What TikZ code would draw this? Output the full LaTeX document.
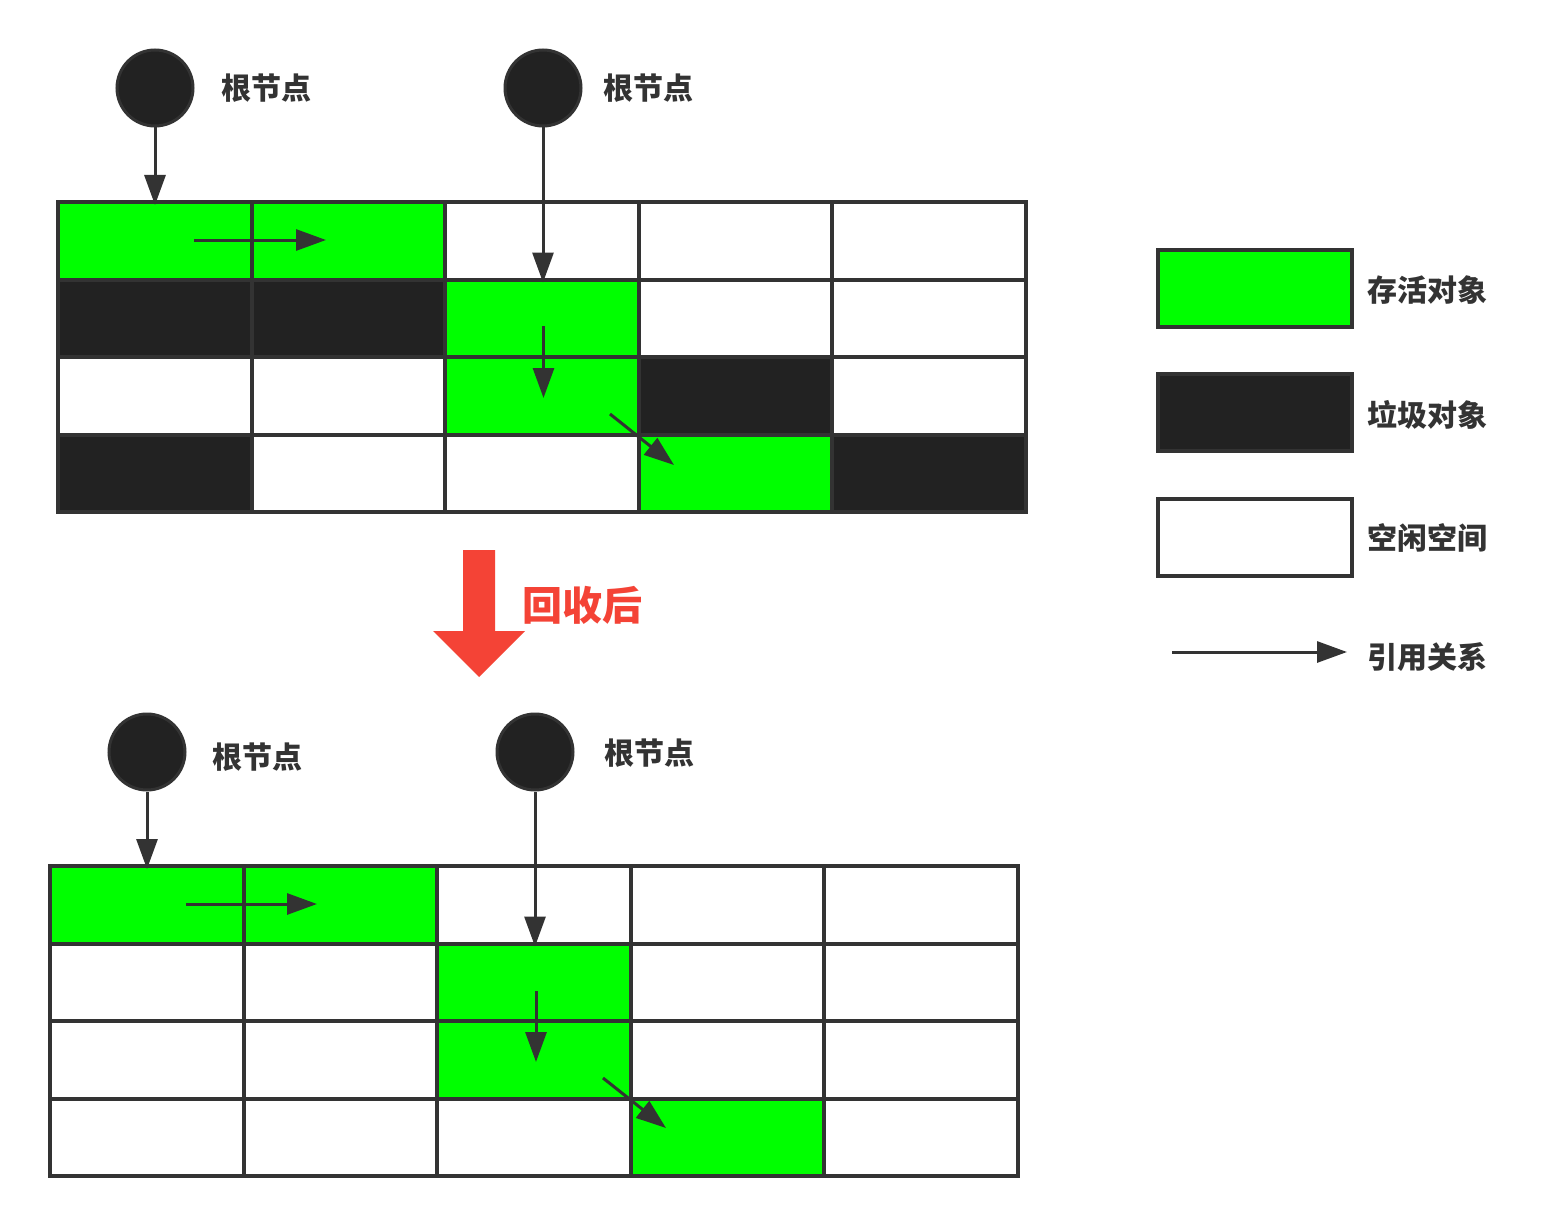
\documentclass[tikz,border=0pt]{standalone}
\usepackage{fontspec}
\newfontfamily\cjk{Noto Sans CJK SC}
\usetikzlibrary{arrows.meta}
\definecolor{live}{HTML}{00FF00}
\definecolor{dead}{HTML}{222222}
\definecolor{ink}{HTML}{333333}
\definecolor{redc}{HTML}{F44336}
\colorlet{G}{live}
\colorlet{D}{dead}
\colorlet{W}{white}
\tikzset{
  cellbox/.style={rectangle, minimum width=193.6pt, minimum height=77.5pt, inner sep=0pt, outer sep=0pt},
  ref/.style={draw=ink, line width=3pt, -{Triangle[length=30pt,width=21pt]}},
  root/.style={circle, fill=dead, draw=ink, line width=3pt, minimum size=76pt, inner sep=0pt},
  lbl/.style={font=\cjk\bfseries\fontsize{30}{30}\selectfont, text=ink, anchor=west, inner sep=0pt},
  legbox/.style={rectangle, draw=ink, line width=4pt, minimum width=194pt, minimum height=77pt, inner sep=0pt},
}
\begin{document}
\begin{tikzpicture}[x=1pt,y=-1pt]
\useasboundingbox (0,0) rectangle (1541,1225);
\fill[white] (0,0) rectangle (1541,1225);

% top grid
\foreach \r/\row in {0/{G,G,W,W,W},1/{D,D,G,W,W},2/{W,W,G,D,W},3/{D,W,W,G,D}}{
  \foreach \f [count=\c from 0] in \row {
    \node[cellbox, fill=\f] (t-\r-\c) at ({154.8+193.6*\c},{240.75+77.5*\r}) {};
  }
}
\foreach \r in {0,...,3}{\foreach \c in {0,...,4}{
  \draw[ink, line width=4pt] (t-\r-\c.south west) rectangle (t-\r-\c.north east);
}}

% bottom grid
\foreach \r/\row in {0/{G,G,W,W,W},1/{W,W,G,W,W},2/{W,W,G,W,W},3/{W,W,W,G,W}}{
  \foreach \f [count=\c from 0] in \row {
    \node[cellbox, fill=\f] (b-\r-\c) at ({146.8+193.6*\c},{904.75+77.5*\r}) {};
  }
}
\foreach \r in {0,...,3}{\foreach \c in {0,...,4}{
  \draw[ink, line width=4pt] (b-\r-\c.south west) rectangle (b-\r-\c.north east);
}}

% roots
\node[root] (ra) at (155,88) {};
\node[root] (rb) at (543,88) {};
\node[root] (rc) at (147,752) {};
\node[root] (rd) at (535,752) {};
\node[lbl] (la) at (221,88) {根节点};
\node[lbl] (lb) at (603,88) {根节点};
\node[lbl] (lc) at (212,757) {根节点};
\node[lbl] (ld) at (604,753) {根节点};

% top references
\draw[ref] (ra) -- ([yshift=-3pt]ra |- t-0-0.north);
\draw[ref] (rb) -- ([yshift=-3pt]rb |- t-1-2.north);
\coordinate (ta1) at (194,240);
\coordinate (ta2) at (326,240);
\coordinate (tb1) at (543.5,326);
\coordinate (tb2) at (543.5,398);
\coordinate (tc1) at (610,414);
\coordinate (tc2) at (674,465);
\draw[ref] (ta1) -- (ta2);
\draw[ref] (tb1) -- (tb2);
\draw[ref] (tc1) -- (tc2);

% bottom references
\draw[ref] (rc) -- ([yshift=-3pt]rc |- b-0-0.north);
\draw[ref] (rd) -- ([yshift=-3pt]rd |- b-1-2.north);
\coordinate (ba1) at (186,904);
\coordinate (ba2) at (317,904);
\coordinate (bb1) at (536,991);
\coordinate (bb2) at (536,1062);
\coordinate (bc1) at (603,1078);
\coordinate (bc2) at (666,1128);
\draw[ref] (ba1) -- (ba2);
\draw[ref] (bb1) -- (bb2);
\draw[ref] (bc1) -- (bc2);

% red arrow
\fill[redc] (463,550) -- (495,550) -- (495,631) -- (525,631) -- (479,677) -- (433,631) -- (463,631) -- cycle;
\node[font=\cjk\bfseries\fontsize{40}{40}\selectfont, text=redc, anchor=west, inner sep=0pt] (after) at (522,605) {回收后};

% legend
\node[legbox, fill=live] (k1) at (1255,288.5) {};
\node[legbox, fill=dead] (k2) at (1255,412.5) {};
\node[legbox, fill=white] (k3) at (1255,537) {};
\coordinate (k4a) at (1172,652);
\coordinate (k4b) at (1347,652);
\draw[ref] (k4a) -- (k4b);
\node[lbl] (l1) at (1367,290) {存活对象};
\node[lbl] (l2) at (1367,415) {垃圾对象};
\node[lbl] (l3) at (1367,538) {空闲空间};
\node[lbl] (l4) at (1367,657) {引用关系};
\end{tikzpicture}
\end{document}
